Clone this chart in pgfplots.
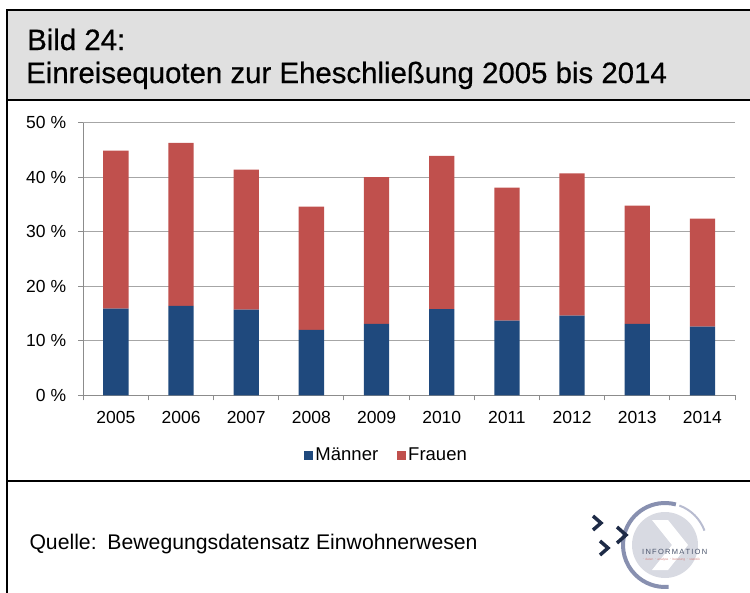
\documentclass[border=0pt]{standalone}
\usepackage{pgfplots}
\pgfplotsset{compat=1.18}
\usepackage{fontspec}
\setmainfont{Liberation Sans}
\newfontfamily\titlefont[FakeBold=0.6]{Liberation Sans}
\definecolor{mblue}{HTML}{1F497D}
\definecolor{fred}{HTML}{C0504D}
\definecolor{hdr}{HTML}{E0E0E0}
\definecolor{gridc}{HTML}{A6A6A6}
\definecolor{axc}{HTML}{8C8C8C}
\definecolor{logob}{HTML}{1E2B47}
\definecolor{logoarc}{HTML}{8890B0}
\definecolor{logolight}{HTML}{D8DAE2}
\begin{document}
\begin{tikzpicture}[x=1pt,y=1pt]
\path[use as bounding box] (0,0) rectangle (750,-592);
% header
\fill[hdr] (7,-10) rectangle (752,-100);
\draw[line width=2pt] (7,-10) -- (752,-10);
\draw[line width=2pt] (7,-100) -- (752,-100);
\draw[line width=2pt] (7,-481) -- (752,-481);
\draw[line width=2pt] (7,-9) -- (7,-594);
\node[anchor=base west, inner sep=0pt, font=\titlefont\fontsize{29.4}{34}\selectfont] at (27,-50) {Bild 24:};
\node[anchor=base west, inner sep=0pt, font=\titlefont\fontsize{29.4}{34}\selectfont] at (26,-83) {Einreisequoten zur Eheschließung 2005 bis 2014};
% source
\node[anchor=base west, inner sep=0pt, font=\fontsize{21.2}{24}\selectfont] at (29.3,-549) {Quelle:\hspace{3pt} Bewegungsdatensatz Einwohnerwesen};
% logo (decorative)
\fill[logolight] (665,-545) circle (33);
\fill[white] (652,-520) -- (668,-520) -- (688,-545) -- (668,-570) -- (652,-570) -- (672,-545) -- cycle;
\draw[logoarc, line width=4pt] (665,-545) ++(75:42) arc (75:275:42);
\draw[logoarc!60, line width=2pt] (665,-545) ++(70:42) arc (70:20:42);
\draw[logob, line width=3.5pt] (593,-516) -- (601,-523) -- (593,-530);
\draw[logob, line width=3.5pt] (617,-527) -- (626,-535) -- (617,-543);
\draw[logob, line width=3.5pt] (600,-541) -- (608,-548) -- (600,-555);
\node[anchor=base west, inner sep=0pt, text=logob!80, font=\fontsize{7.5}{8}\selectfont] at (642,-554) {I\,N\,F\,O\,R\,M\,A\,T\,I\,O\,N};
\node[anchor=base west, inner sep=0pt, text=fred!70, font=\fontsize{3.2}{4}\selectfont] at (642,-560) {$\cdot$ daten $\cdot$ analyse $\cdot$ beratung $\cdot$ statistik};
% chart
\begin{axis}[
  at={(83.3pt,-395.3pt)}, anchor=south west,
  scale only axis, width=651.7pt, height=272.6pt,
  ybar stacked, bar width=25.3pt,
  xmin=-0.5, xmax=9.5, ymin=0, ymax=50,
  xtick={0,...,9},
  xticklabels={2005,2006,2007,2008,2009,2010,2011,2012,2013,2014},
  minor xtick={-0.5,0.5,...,9.5},
  ytick={0,10,...,50},
  yticklabel={\pgfmathprintnumber{\tick}~\%},
  /pgf/number format/assume math mode=true,
  axis x line*=bottom, axis y line*=left,
  axis line style={axc, line width=1.2pt, -},
  tick align=outside,
  major x tick style={draw=none},
  minor x tick style={axc, line width=1pt},
  minor tick length=5pt,
  y tick style={axc, line width=1pt},
  major tick length=5pt,
  ymajorgrids, grid style={gridc, line width=1pt},
  tick label style={font=\fontsize{17.5}{20}\selectfont},
  yticklabel style={inner sep=0pt, anchor=east, xshift=-12pt},
  xticklabel style={inner sep=0pt, anchor=north, yshift=-11pt},
  legend style={at={(0.4655,-0.219)}, anchor=center, draw=none, fill=none,
    legend columns=2, font=\fontsize{18.5}{20}\selectfont,
    /tikz/every even column/.append style={column sep=17pt},
    /tikz/every odd column/.append style={column sep=0pt}},
  legend cell align=left,
  legend image code/.code={\fill[#1] (0pt,-4.5pt) rectangle (9pt,4.5pt);},
]
\addplot[fill=mblue, draw=none] coordinates {(0,15.9) (1,16.4) (2,15.7) (3,12.0) (4,13.1) (5,15.8) (6,13.7) (7,14.6) (8,13.1) (9,12.6)};
\addplot[fill=fred, draw=none] coordinates {(0,29.0) (1,29.9) (2,25.7) (3,22.6) (4,26.9) (5,28.1) (6,24.4) (7,26.1) (8,21.7) (9,19.8)};
\legend{Männer, Frauen}
\end{axis}
\end{tikzpicture}
\end{document}
